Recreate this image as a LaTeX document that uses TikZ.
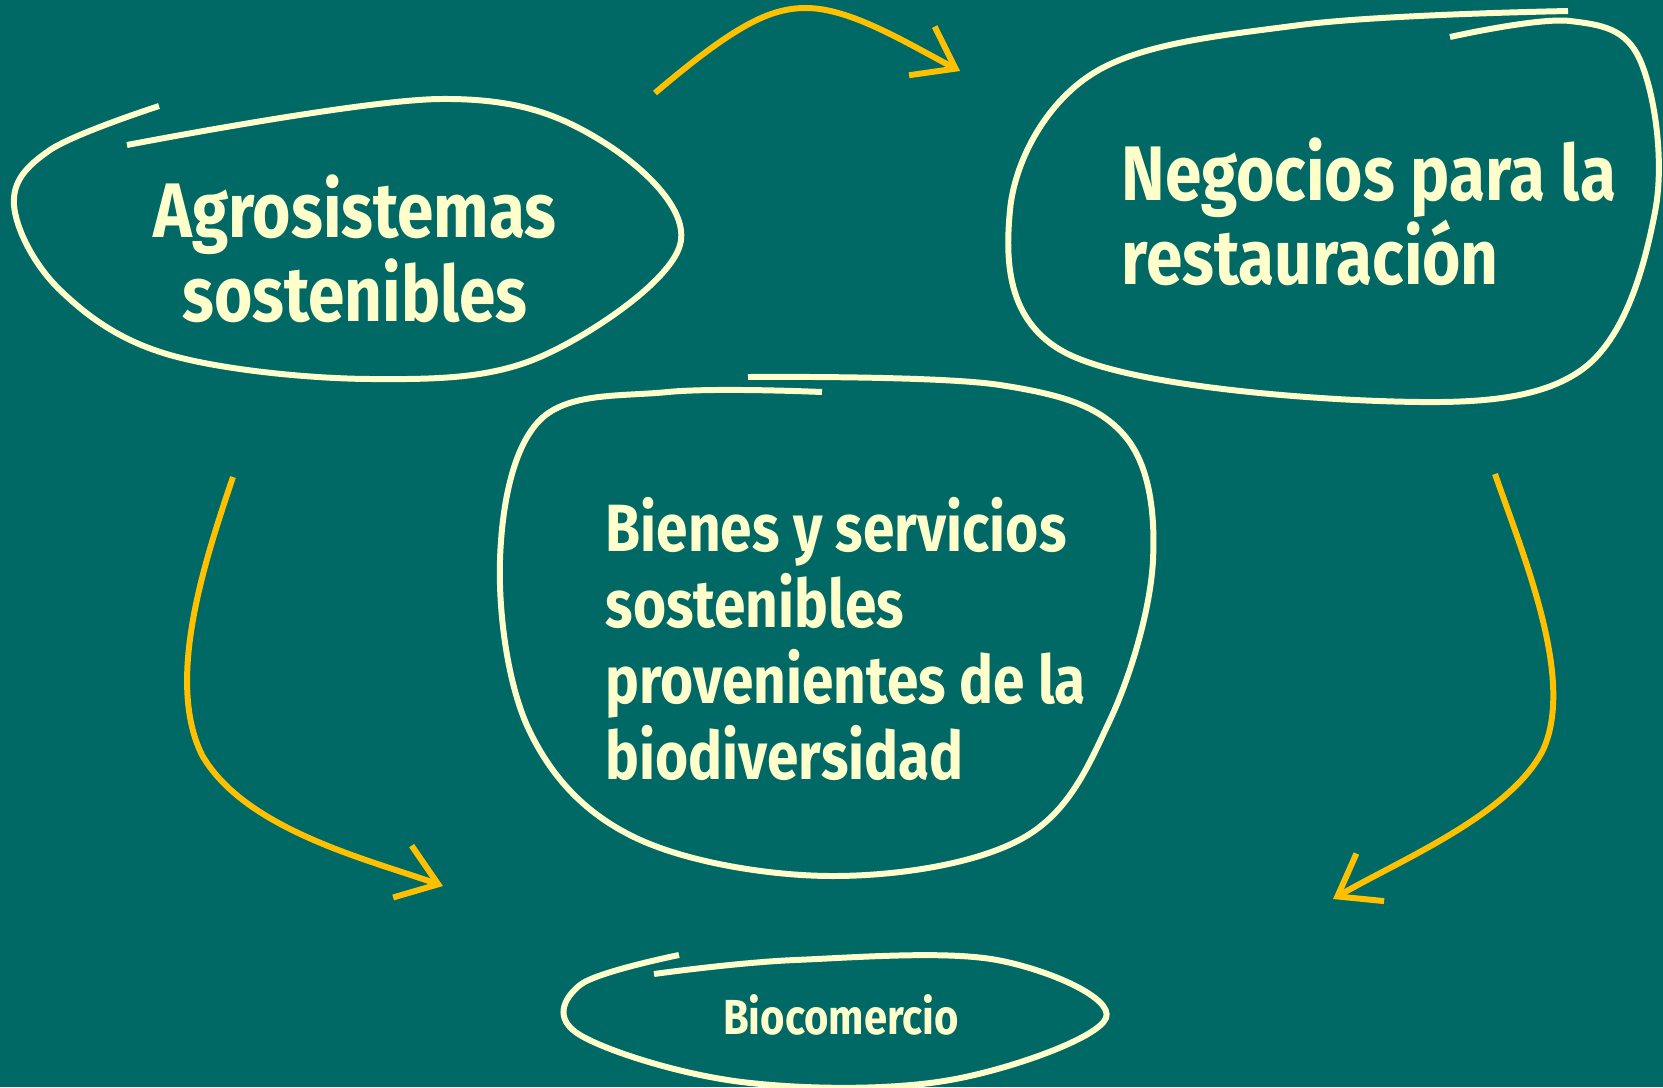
\documentclass[tikz,border=0pt]{standalone}
\usepackage{fontspec}
\setmainfont{Fira Sans}[FakeStretch=0.85]
\usepackage{tikz}
\usetikzlibrary{arrows.meta,positioning}

\definecolor{pizarra}{RGB}{0,104,101}
\definecolor{crema}{RGB}{255,255,204}
\definecolor{mostaza}{RGB}{255,192,0}

\begin{document}
\begin{tikzpicture}[x=0.01cm,y=-0.01cm,
    lazo/.style={draw=crema,line width=1.7pt},
    flujo/.style={draw=mostaza,line width=1.7pt,-{Straight Barb[length=3.8mm,width=5.5mm,line width=1.7pt]}},
    rotulo/.style={text=crema,font=\bfseries,inner sep=0pt}]
   \fill[pizarra] (0,0) rectangle (1663,1087);
   \useasboundingbox (0,0) rectangle (1663,1087);
   \node[rotulo,align=center,font=\bfseries\fontsize{22}{24}\selectfont] (agro) at (355,249) {Agrosistemas\\sostenibles};
   \node[rotulo,align=left,anchor=west,font=\bfseries\fontsize{22}{24}\selectfont] (nego) at (1121,212) {Negocios para la\\restauración};
   \node[rotulo,align=left,anchor=west,font=\bfseries\fontsize{19}{21.6}\selectfont] (bienes) at (605,639) {Bienes y servicios\\sostenibles\\provenientes de la\\biodiversidad};
   \node[rotulo,font=\bfseries\fontsize{14}{16}\selectfont] (bio) at (841,1015) {Biocomercio};
   \draw[lazo] plot[smooth,tension=0.6] coordinates {(159,106) (50,150) (14,205) (60,290) (170,355) (371,379) (540,357) (680,245) (600,140) (440,99) (127,145)};
   \draw[lazo] plot[smooth,tension=0.6] coordinates {(1568,11) (1300,25) (1092,74) (1010,210) (1066,353) (1379,401) (1580,371) (1655,212) (1640,60) (1570,21) (1450,37)};
   \draw[lazo] plot[smooth,tension=0.6] coordinates {(748,377) (1000,385) (1124,435) (1153,560) (1110,720) (1023,838) (833,876) (636,838) (530,732) (500,560) (540,420) (668,392) (822,392)};
   \draw[lazo] plot[smooth,tension=0.6] coordinates {(679,955) (580,985) (580,1035) (742,1082) (950,1080) (1106,1018) (997,960) (795,960) (654,974)};
   \coordinate (ida) at (655,93);
   \coordinate (llegada) at (960,71);
   \coordinate (bajaizq) at (233,477);
   \coordinate (finizq) at (443,886);
   \coordinate (bajader) at (1495,474);
   \coordinate (finder) at (1333,899);
   \draw[flujo] (ida) .. controls (735,25) and (770,8) .. (806,8) .. controls (850,8) and (905,42) .. (llegada);
   \draw[flujo] (bajaizq) .. controls (205,560) and (165,680) .. (202,755) .. controls (245,830) and (370,860) .. (finizq);
   \draw[flujo] (bajader) .. controls (1525,560) and (1575,680) .. (1543,750) .. controls (1510,815) and (1400,860) .. (finder);
\end{tikzpicture}
\end{document}
